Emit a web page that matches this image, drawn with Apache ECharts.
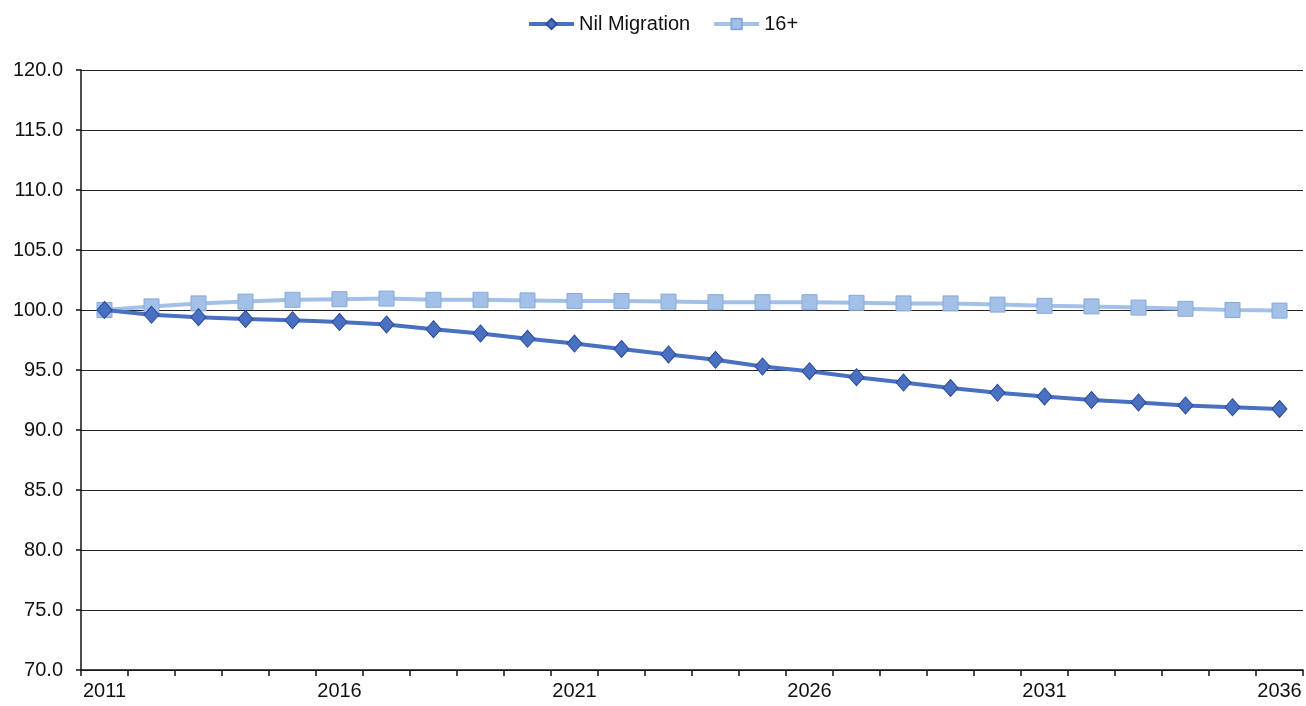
<!DOCTYPE html>
<html>
<head>
<meta charset="utf-8">
<script src="https://cdn.jsdelivr.net/npm/echarts@6/dist/echarts.min.js"></script>
<style>
  html, body { margin: 0; padding: 0; background: #ffffff; }
  #chart { width: 1306px; height: 706px; }
</style>
</head>
<body>
<div id="chart"></div>
<script>
// Projection index (2011 = 100) by year
const years = ['2011','2012','2013','2014','2015','2016','2017','2018','2019','2020',
               '2021','2022','2023','2024','2025','2026','2027','2028','2029','2030',
               '2031','2032','2033','2034','2035','2036'];

const nilMigration = [100.0, 99.6, 99.4, 99.25, 99.15, 99.0, 98.8, 98.4, 98.05, 97.6,
                      97.2, 96.75, 96.3, 95.85, 95.3, 94.9, 94.4, 93.95, 93.5, 93.1,
                      92.8, 92.5, 92.3, 92.05, 91.9, 91.75];

const age16plus = [100.0, 100.3, 100.55, 100.7, 100.85, 100.9, 100.95, 100.85, 100.85, 100.8,
                   100.75, 100.75, 100.7, 100.65, 100.65, 100.65, 100.6, 100.55, 100.55, 100.45,
                   100.35, 100.3, 100.2, 100.1, 100.0, 99.95];

const yMin = 70, yMax = 120, yStep = 5;

const chart = echarts.init(document.getElementById('chart'), null, { renderer: 'canvas' });

const labelFont = { fontFamily: 'Liberation Sans, Arial, sans-serif', fontSize: 20, color: '#111' };

chart.setOption({
  animation: false,
  backgroundColor: '#ffffff',
  legend: {
    top: 14,
    left: 527,
    padding: 0,
    itemWidth: 45,
    itemHeight: 13,
    itemGap: 22,
    lineStyle: { width: 4 },
    textStyle: Object.assign({}, labelFont, { padding: [0, 0, 0, 0] }),
    data: ['Nil Migration', '16+']
  },
  grid: { left: 81, right: 3, top: 70, bottom: 36, containLabel: false },
  xAxis: {
    type: 'category',
    data: years,
    boundaryGap: true,
    axisLine: { show: true, lineStyle: { color: '#111', width: 1.5 } },
    axisTick: { show: true, interval: 0, length: 6, lineStyle: { color: '#111', width: 1.5 } },
    axisLabel: Object.assign({}, labelFont, { interval: 4, margin: 11 }),
    splitLine: { show: false }
  },
  yAxis: {
    type: 'value',
    min: yMin,
    max: yMax,
    interval: yStep,
    axisLine: { show: true, lineStyle: { color: '#111', width: 1.5 } },
    axisTick: { show: true, length: 5, lineStyle: { color: '#111', width: 1.5 } },
    axisLabel: Object.assign({}, labelFont, {
      margin: 18,
      formatter: v => v.toFixed(1)
    }),
    splitLine: { show: true, lineStyle: { color: '#222', width: 1.2 } }
  },
  series: [
    {
      name: '16+',
      type: 'line',
      data: age16plus,
      symbol: 'rect',
      symbolSize: 15,
      z: 2,
      lineStyle: { color: '#a3c1e8', width: 4 },
      itemStyle: { color: '#a3c1e8', borderColor: '#86a8d8', borderWidth: 1 }
    },
    {
      name: 'Nil Migration',
      type: 'line',
      data: nilMigration,
      symbol: 'diamond',
      symbolSize: [15, 17],
      z: 3,
      lineStyle: { color: '#4a70c2', width: 4 },
      itemStyle: { color: '#4a70c2', borderColor: '#2d4b9c', borderWidth: 1 }
    }
  ]
});
</script>
</body>
</html>
